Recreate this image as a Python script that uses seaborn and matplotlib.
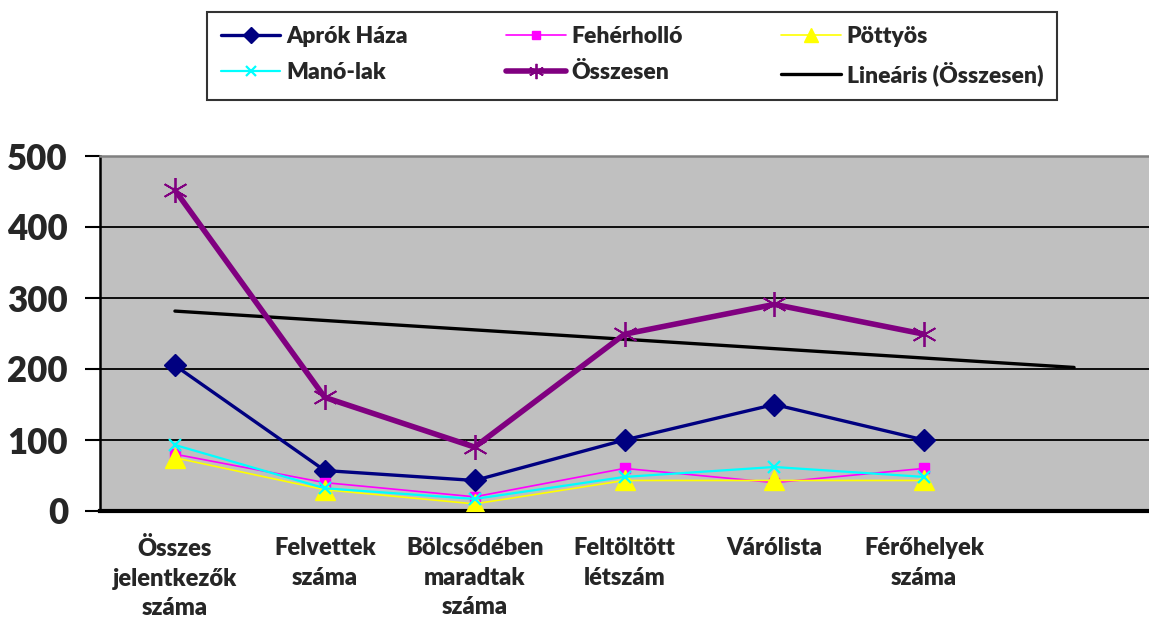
import numpy as np
import pandas as pd
import matplotlib
matplotlib.use("Agg")
import matplotlib.pyplot as plt
from matplotlib.lines import Line2D
import seaborn as sns

# adatok (leolvasva a diagramról)
categories = ["Összes\njelentkezők\nszáma", "Felvettek\nszáma", "Bölcsődében\nmaradtak\nszáma",
              "Feltöltött\nlétszám", "Várólista", "Férőhelyek\nszáma"]
aprok_haza = [205, 57, 43, 100, 150, 100]
feherhollo = [80, 40, 20, 60, 40, 60]
pottyos = [75, 30, 10, 43, 43, 43]
mano_lak = [93, 32, 17, 48, 62, 48]
osszesen = [452, 160, 90, 249, 291, 249]
y_ticks = [0, 100, 200, 300, 400, 500]

sns.set_style("white")
plt.rcParams["font.family"] = ["Lato", "DejaVu Sans"]
plt.rcParams["font.weight"] = "bold"

x = np.arange(1, len(categories) + 1)

# lineáris trend (Összesen), egy periódussal előre
coef = np.polyfit(x, osszesen, 1)
x_trend = np.arange(1, len(categories) + 2)
trend = np.polyval(coef, x_trend)

fig = plt.figure(figsize=(11.49, 6.21), dpi=100)
ax = fig.add_axes([100 / 1149, 1 - 511 / 621, 1 - 100 / 1149, (511 - 156) / 621])
ax.set_facecolor("#C0C0C0")

# név, adat, szín, marker, vonalvastagság, markerméret, marker él, legend markerméret
series = [
    ("Aprók Háza", aprok_haza, "#000080", "D", 2.4, 11, 1, 8),
    ("Fehérholló", feherhollo, "#FF00FF", "s", 1.2, 7, 1, 6),
    ("Pöttyös", pottyos, "#FFFF00", "^", 1.2, 14, 1, 10),
    ("Manó-lak", mano_lak, "#00FFFF", "x", 1.6, 9, 1.6, 7),
    ("Összesen", osszesen, "#800080", (6, 2, 0), 4.0, 18, 1.3, 11),
]

handles = {}
for name, vals, col, mk, lw, ms, mew, lms in series:
    sns.lineplot(x=x, y=vals, ax=ax, color=col, linewidth=lw, marker=mk, markersize=ms,
                 markeredgecolor=col, markerfacecolor=col, markeredgewidth=mew,
                 legend=False, zorder=3)
    handles[name] = Line2D([], [], color=col, linewidth=lw, marker=mk, markersize=lms,
                           markeredgecolor=col, markerfacecolor=col, markeredgewidth=mew)

sns.lineplot(x=x_trend, y=trend, ax=ax, color="black", linewidth=2.4, legend=False, zorder=2.5)
handles["Lineáris (Összesen)"] = Line2D([], [], color="black", linewidth=2.4)

ax.set_xlim(0.5, 0.5 + 1049 / 151)
ax.set_ylim(0, 500)
ax.set_yticks(y_ticks)
ax.set_yticklabels([str(t) for t in y_ticks], fontsize=25, fontweight="heavy")
ax.yaxis.grid(True, color="black", linewidth=1.3)
ax.set_axisbelow(True)

# kategória-határok: tick, címkék a kategória közepén
ax.set_xticks(np.arange(0.5, 8.0, 1.0))
ax.set_xticklabels([])
ax.set_xticks(x, minor=True)
ax.set_xticklabels(categories, minor=True, fontsize=17, fontweight="heavy", linespacing=1.4,
                   va="top")
ax.tick_params(axis="x", which="major", direction="out", length=8, width=2.2, color="black")
ax.tick_params(axis="x", which="minor", length=0, pad=19)
ax.tick_params(axis="y", direction="out", length=11, width=1.5, color="black", pad=12, left=True)

ax.spines["left"].set_color("black")
ax.spines["left"].set_linewidth(1.8)
ax.spines["bottom"].set_color("black")
ax.spines["bottom"].set_linewidth(3)
ax.spines["top"].set_color("#808080")
ax.spines["top"].set_linewidth(1.8)
ax.spines["right"].set_visible(False)

order = ["Aprók Háza", "Manó-lak", "Fehérholló", "Összesen", "Pöttyös", "Lineáris (Összesen)"]
leg = fig.legend([handles[k] for k in order], order, loc="upper left",
                 bbox_to_anchor=(207 / 1149, 1 - 12 / 621, 850 / 1149, 0.0), mode="expand",
                 ncol=3, frameon=True, fancybox=False, handlelength=2.6,
                 handletextpad=0.25, borderaxespad=0, borderpad=0.6, labelspacing=0.65,
                 prop={"weight": "heavy", "size": 16.5})
leg.get_frame().set_edgecolor("black")
leg.get_frame().set_linewidth(1.5)

plt.savefig("out.png", dpi=100)
plt.close()
